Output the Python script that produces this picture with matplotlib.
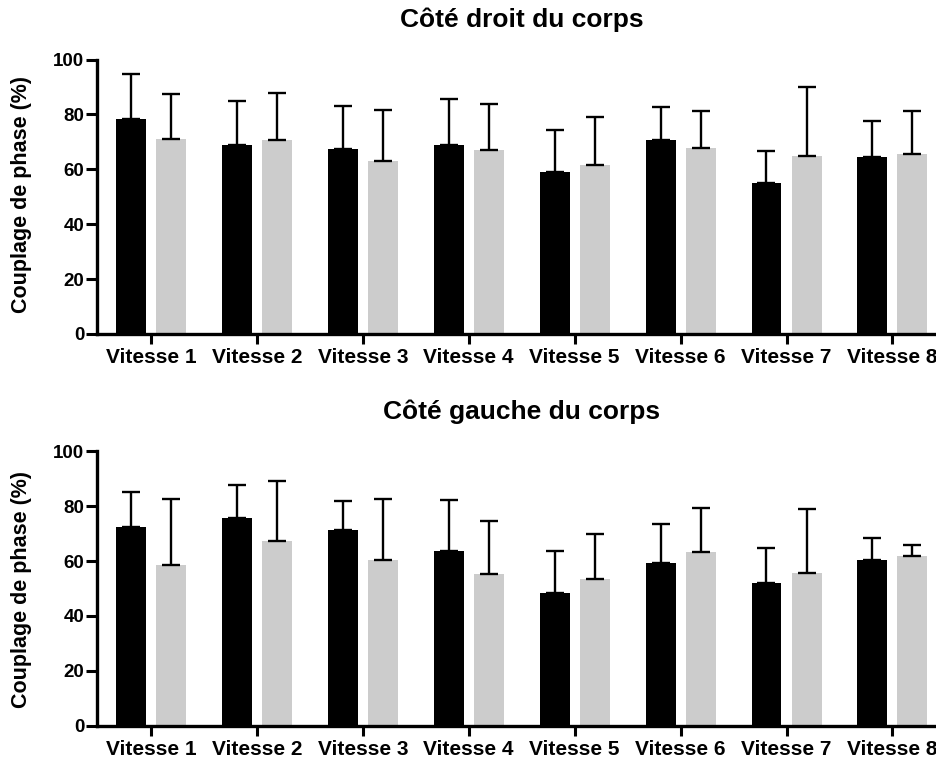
import numpy as np
import matplotlib
matplotlib.use("Agg")
import matplotlib.pyplot as plt

plt.rcParams['font.family'] = ['Liberation Sans', 'DejaVu Sans']
plt.rcParams['font.weight'] = 'bold'

speeds = ["Vitesse 1", "Vitesse 2", "Vitesse 3", "Vitesse 4",
          "Vitesse 5", "Vitesse 6", "Vitesse 7", "Vitesse 8"]

# right side of the body
right_black = [78.4, 68.8, 67.5, 68.8, 59.0, 70.7, 55.0, 64.4]
right_black_sd = [16.2, 15.9, 15.5, 16.9, 15.4, 12.1, 11.7, 13.1]
right_grey = [71.0, 70.6, 63.1, 66.9, 61.5, 67.7, 64.9, 65.5]
right_grey_sd = [16.6, 17.1, 18.4, 16.8, 17.7, 13.4, 25.1, 15.9]

# left side of the body
left_black = [72.4, 75.5, 71.4, 63.6, 48.2, 59.1, 52.1, 60.4]
left_black_sd = [12.8, 12.1, 10.6, 18.5, 15.3, 14.3, 12.6, 7.9]
left_grey = [58.6, 67.3, 60.2, 55.4, 53.5, 63.1, 55.6, 61.9]
left_grey_sd = [24.1, 21.8, 22.5, 19.2, 16.2, 16.2, 23.2, 3.9]

W, H = 936, 762
fig = plt.figure(figsize=(W / 100, H / 100), dpi=100)

x = np.arange(len(speeds))
bw = 0.283
off = 0.189


def panel(bottom_px, black, black_sd, grey, grey_sd, title, title_y, label_y):
    left_px = 96.7
    width_px = 854
    height_px = 274.5
    ax = fig.add_axes([left_px / W, 1 - bottom_px / H, width_px / W, height_px / H])
    ekw = dict(elinewidth=1.7, capsize=6.5, capthick=1.7, ecolor='black')
    ax.bar(x - off, black, bw, color='black',
           yerr=[np.zeros(len(black)), black_sd], error_kw=ekw)
    ax.bar(x + off, grey, bw, color='#cccccc',
           yerr=[np.zeros(len(grey)), grey_sd], error_kw=ekw)
    ax.set_xlim(-0.512, 7.55)
    ax.set_ylim(0, 100)
    ax.set_yticks([0, 20, 40, 60, 80, 100])
    ax.set_xticks(x)
    ax.set_xticklabels(speeds, fontsize=15, fontweight='bold')
    for lab in ax.get_yticklabels():
        lab.set_fontsize(13.5)
        lab.set_fontweight('bold')
    for s in ['top', 'right']:
        ax.spines[s].set_visible(False)
    for s in ['left', 'bottom']:
        ax.spines[s].set_linewidth(2.4)
    ax.tick_params(axis='y', length=8, width=2.2, pad=1)
    ax.tick_params(axis='x', length=7, width=2.2, pad=3)
    fig.text(521.5 / W, 1 - title_y / H, title, ha='center', va='center',
             fontsize=19, fontweight='bold')
    fig.text(22 / W, 1 - label_y / H, "Couplage de phase (%)", rotation=90,
             ha='center', va='center', fontsize=15.5, fontweight='bold')
    return ax


panel(334, right_black, right_black_sd, right_grey, right_grey_sd,
      "Côté droit du corps", 20, 194.5)
panel(725.7, left_black, left_black_sd, left_grey, left_grey_sd,
      "Côté gauche du corps", 412, 590)

fig.savefig("out.png", dpi=100)
